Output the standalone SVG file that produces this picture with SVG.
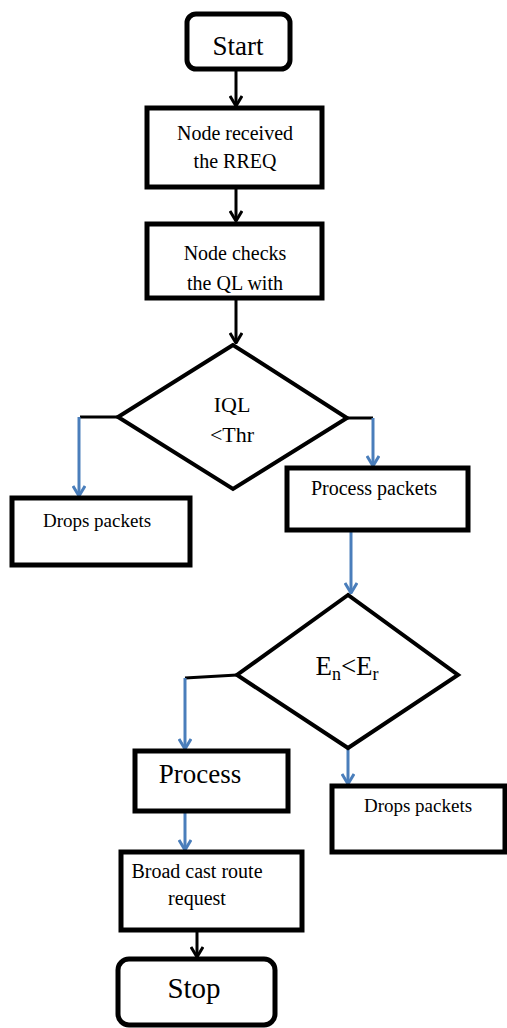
<svg xmlns="http://www.w3.org/2000/svg" width="507" height="1028" viewBox="0 0 507 1028">
<style>
.box{fill:#fff;stroke:#000;stroke-width:5}
.dia{fill:#fff;stroke:#000;stroke-width:4;stroke-linejoin:miter}
text{font-family:'Times New Roman','Liberation Serif','DejaVu Serif',serif;fill:#000;text-anchor:middle}
.blk{fill:none;stroke:#000;stroke-width:3}
.blu{fill:none;stroke:#4a7ebb;stroke-width:3}
</style>
<defs>
<marker id="ab" viewBox="0 0 14 14" refX="13" refY="7" markerWidth="14" markerHeight="14" markerUnits="userSpaceOnUse" orient="auto">
<path d="M3,1 L13,7 L3,13" fill="none" stroke="#000" stroke-width="3"/>
</marker>
<marker id="au" viewBox="0 0 14 14" refX="13" refY="7" markerWidth="14" markerHeight="14" markerUnits="userSpaceOnUse" orient="auto">
<path d="M3,1 L13,7 L3,13" fill="none" stroke="#4a7ebb" stroke-width="3"/>
</marker>
</defs>
<g id="connectors">
<line class="blk" x1="236" y1="69" x2="236" y2="106" marker-end="url(#ab)"/>
<line class="blk" x1="236" y1="188" x2="236" y2="221" marker-end="url(#ab)"/>
<line class="blk" x1="236" y1="299" x2="236" y2="343" marker-end="url(#ab)"/>
<polyline class="blk" points="118,417 80,417"/>
<line class="blu" x1="79" y1="417" x2="79" y2="496" marker-end="url(#au)"/>
<polyline class="blk" points="347,418 373,418"/>
<line class="blu" x1="373" y1="418" x2="373" y2="466" marker-end="url(#au)"/>
<line class="blu" x1="351" y1="531" x2="351" y2="593" marker-end="url(#au)"/>
<polyline class="blk" points="237,675 185,678"/>
<line class="blu" x1="185" y1="678" x2="185" y2="749" marker-end="url(#au)"/>
<line class="blu" x1="348" y1="748" x2="348" y2="784" marker-end="url(#au)"/>
<line class="blu" x1="185" y1="812" x2="185" y2="850" marker-end="url(#au)"/>
<line class="blk" x1="197" y1="931" x2="197" y2="957" marker-end="url(#ab)"/>
</g>
<g id="start">
<rect class="box" x="187" y="14" width="103" height="55" rx="9"/>
<text x="238" y="55" font-size="27">Start</text>
</g>
<g id="node-received">
<rect class="box" x="147" y="108" width="175" height="79"/>
<text x="235" y="140" font-size="20">Node received</text>
<text x="235" y="168" font-size="20">the RREQ</text>
</g>
<g id="node-checks">
<rect class="box" x="147" y="224" width="175" height="74"/>
<text x="235" y="260" font-size="20">Node checks</text>
<text x="235" y="290" font-size="20">the QL with</text>
</g>
<g id="decision-iql">
<polygon class="dia" points="233,345 118,417 233,489 347,418"/>
<text x="232" y="412" font-size="22">IQL</text>
<text x="232" y="442" font-size="22">&lt;Thr</text>
</g>
<g id="drops-packets-1">
<rect class="box" x="12" y="498" width="178" height="67"/>
<text x="97" y="527" font-size="19">Drops packets</text>
</g>
<g id="process-packets">
<rect class="box" x="287" y="468" width="181" height="62"/>
<text x="374" y="495" font-size="20">Process packets</text>
</g>
<g id="decision-energy">
<polygon class="dia" points="348,595 237,675 348,748 458,675"/>
<text x="347" y="675" font-size="27">E<tspan font-size="18" dy="5">n</tspan><tspan dy="-5">&lt;E</tspan><tspan font-size="18" dy="5">r</tspan></text>
</g>
<g id="process">
<rect class="box" x="135" y="751" width="153" height="60"/>
<text x="200" y="783" font-size="27">Process</text>
</g>
<g id="drops-packets-2">
<rect class="box" x="332" y="786" width="173" height="66"/>
<text x="418" y="812" font-size="19">Drops packets</text>
</g>
<g id="broadcast">
<rect class="box" x="121" y="852" width="181" height="78"/>
<text x="197" y="878" font-size="20">Broad cast route</text>
<text x="197" y="905" font-size="20">request</text>
</g>
<g id="stop">
<rect class="box" x="118" y="959" width="157" height="66" rx="11"/>
<text x="194" y="998" font-size="29">Stop</text>
</g>
</svg>
